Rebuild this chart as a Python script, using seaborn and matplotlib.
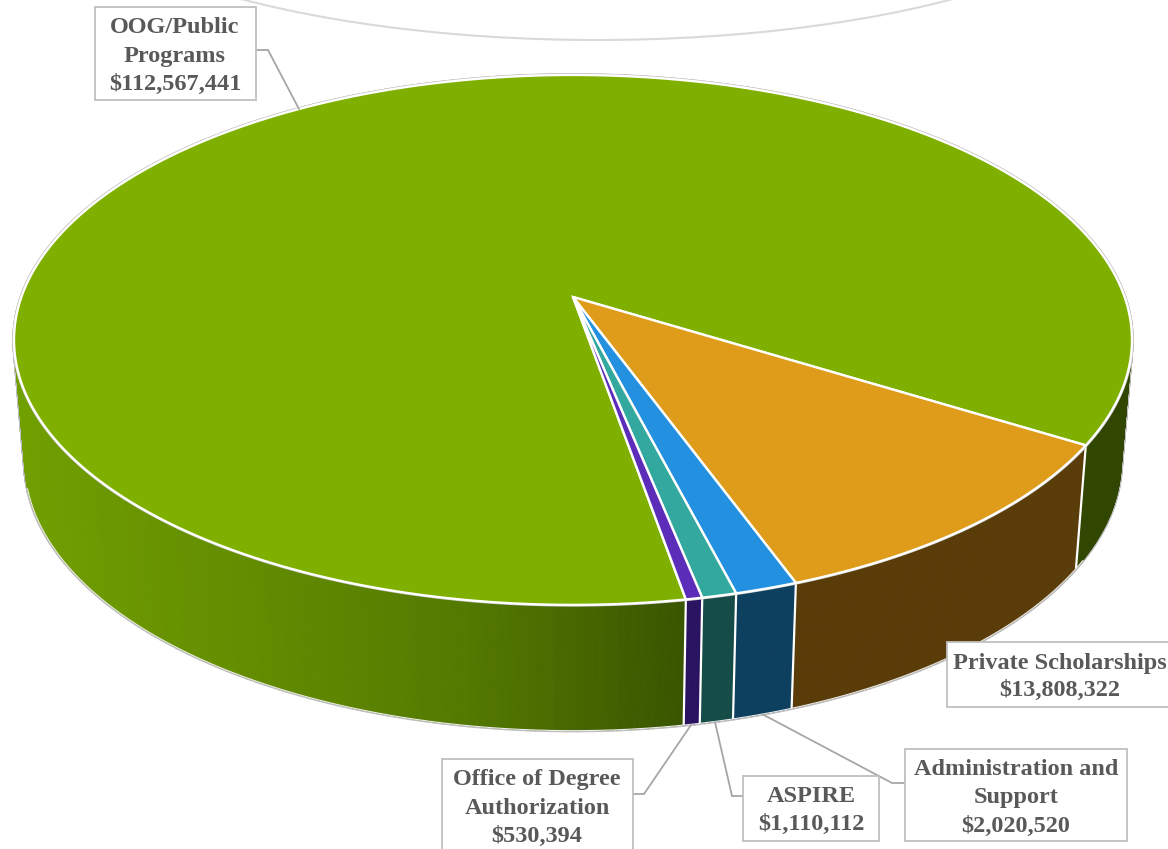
import numpy as np
import matplotlib
matplotlib.use("Agg")
import matplotlib.pyplot as plt
from matplotlib.collections import PolyCollection
from matplotlib.patches import Ellipse, Rectangle
import seaborn as sns

categories = ["OOG/Public\nPrograms", "Private Scholarships", "Administration and\nSupport",
              "ASPIRE", "Office of Degree\nAuthorization"]
amounts = [112567441, 13808322, 2020520, 1110112, 530394]
top_colors = ["#7FB000", "#DF9C1B", "#2391DF", "#32A89E", "#5B2DB8"]
wall_colors = ["#3A5600", "#5A3C09", "#0D3F5F", "#154C48", "#2A1360"]

# label boxes in pixels: left, top, right, bottom, text centre x
boxes = [(95, 7, 256, 100, 175), (947, 642, 1175, 707, 1060), (905, 749, 1127, 841, 1016),
         (743, 776, 879, 841, 811), (442, 759, 633, 860, 537)]
leaders = [[(256, 50), (268, 50), (299, 109)],
           [],
           [(905, 783), (892, 783), (762, 714)],
           [(743, 796), (732, 796), (715, 722)],
           [(633, 794), (644, 794), (691, 725)]]

W, H = 1168, 849
CX = 573
START_ANGLE = -80.1
K = 0.162              # perspective of the tilted pie


def project(theta, y0, a, b):
    u, v = np.cos(theta), np.sin(theta)
    w = 1 + K * v
    return CX + a * u / w, y0 - b * v / w


def top_xy(theta):
    return project(theta, 297, 551.6, 258)


def bottom_xy(theta):
    return project(theta, 418, 541, 262)


sns.set_theme(style="white")
plt.rcParams["font.family"] = ["Liberation Serif", "DejaVu Serif"]

fig = plt.figure(figsize=(W / 100, H / 100), dpi=100)
ax = fig.add_axes([0, 0, 1, 1])
ax.set_xlim(0, W)
ax.set_ylim(H, 0)
ax.axis("off")

# faint rim of the shape cut off at the top of the picture
ax.add_patch(Ellipse((597, -139), 1118, 358, fc="white", ec="#d9d9d9", lw=1.5, zorder=0))

amounts = np.array(amounts, dtype=float)
shares = amounts / amounts.sum()
edges = np.radians(START_ANGLE - 360 * np.concatenate([[0], np.cumsum(shares)]))

green_shade = sns.blend_palette(["#709F00", "#648D00", "#547A00", "#3A5600"], n_colors=80)

# side walls
for i in range(len(amounts)):
    n = max(int(abs(edges[i + 1] - edges[i]) / np.radians(0.4)), 2)
    ts = np.linspace(edges[i], edges[i + 1], n + 1)
    xt, yt = top_xy(ts)
    xb, yb = bottom_xy(ts)
    quads = [[(xt[j], yt[j]), (xt[j + 1], yt[j + 1]), (xb[j + 1], yb[j + 1]), (xb[j], yb[j])]
             for j in range(n)]
    if i == 0:
        cols = []
        for j in range(n):
            xm = xt[j]
            if xm > 700:
                cols.append("#314600")
            else:
                idx = int(np.clip((xm - 14) / (680 - 14) * 79, 0, 79))
                cols.append(green_shade[idx])
    else:
        cols = [wall_colors[i]] * n
    ax.add_collection(PolyCollection(quads, facecolors="none", edgecolors="#bdbdbd",
                                     linewidths=2.4, zorder=1))
    ax.add_collection(PolyCollection(quads, facecolors=cols, edgecolors=cols,
                                     linewidths=0.6, zorder=2))

# white lines between the walls
for t in edges[:-1]:
    xt, yt = top_xy(t)
    xb, yb = bottom_xy(t)
    ax.plot([xt, xb], [yt, yb], color="white", lw=1.6, zorder=3, solid_capstyle="butt")
ts = np.linspace(np.radians(-165), np.radians(-30), 300)
ax.plot(*bottom_xy(ts), color="#ececec", lw=0.8, zorder=3)

# top faces
ts = np.linspace(0, 2 * np.pi, 720)
ax.plot(*top_xy(ts), color="#c4c4c4", lw=2.6, zorder=3)
for i in range(len(amounts)):
    ts = np.linspace(edges[i], edges[i + 1], max(int(abs(edges[i + 1] - edges[i]) / np.radians(0.5)), 4))
    xt, yt = top_xy(ts)
    ax.fill(np.r_[CX, xt], np.r_[297, yt], fc=top_colors[i], ec="white", lw=1.7,
            joinstyle="miter", zorder=4)

# labels
for name, amount, box, leader in zip(categories, amounts, boxes, leaders):
    left, top, right, bottom, tx = box
    if leader:
        lx, ly = zip(*leader)
        ax.plot(lx, ly, color="#a6a6a6", lw=1.3, zorder=5, solid_joinstyle="miter")
    ax.add_patch(Rectangle((left, top), right - left, bottom - top, fc="white",
                           ec="#bfbfbf", lw=1.3, zorder=6))
    lines = name.split("\n") + [f"${amount:,.0f}"]
    for k, line in enumerate(lines):
        if len(lines) == 3:
            y = top + 20.5 + 28.5 * k
        else:
            y = top + 21 + 27.5 * k
        ax.text(tx, y, line, ha="center", va="center", fontsize=17.5, fontweight="bold",
                color="#595959", zorder=7)

fig.savefig("out.png", dpi=100, facecolor="white")
